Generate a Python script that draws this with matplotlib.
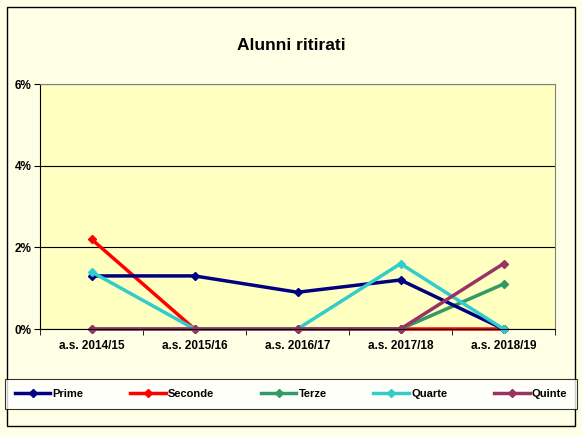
import matplotlib
matplotlib.use('Agg')
import matplotlib.pyplot as plt
import matplotlib.patches as patches

years = ["a.s. 2014/15", "a.s. 2015/16", "a.s. 2016/17", "a.s. 2017/18", "a.s. 2018/19"]
prime = [1.3, 1.3, 0.9, 1.2, 0.0]
seconde = [2.2, 0.0, 0.0, 0.0, 0.0]
terze = [0.0, 0.0, 0.0, 0.0, 1.1]
quarte = [1.4, 0.0, 0.0, 1.6, 0.0]
quinte = [0.0, 0.0, 0.0, 0.0, 1.6]

series = [("Prime", prime, "#000080"),
          ("Seconde", seconde, "#FF0000"),
          ("Terze", terze, "#339966"),
          ("Quarte", quarte, "#33CCCC"),
          ("Quinte", quinte, "#993366")]

fig = plt.figure(figsize=(5.82, 4.36), dpi=100)
fig.patch.set_facecolor("#FFFFE6")
fig.patches.append(patches.Rectangle((7/582, 1-426/436), 568/582, 419/436, transform=fig.transFigure,
                                     fill=False, edgecolor="black", lw=1))

ax = fig.add_axes([40/582, 1-329/436, 515/582, 245/436])
ax.set_facecolor("#FFFFC0")
x = list(range(len(years)))
# draw order chosen so overlaps look like the reference
for name, vals, c in [series[1], series[2], series[0], series[3], series[4]]:
    ax.plot(x, vals, color=c, lw=2.5, marker="D", ms=4.5, label=name, clip_on=False)

ax.set_xlim(-0.5, 4.5)
ax.set_ylim(0, 6)
ax.set_yticks([0, 2, 4, 6])
ax.set_yticklabels(["0%", "2%", "4%", "6%"], fontsize=8.5, fontweight="bold", family="Liberation Sans")
ax.yaxis.grid(True, color="black", lw=0.8)
ax.set_axisbelow(True)
ax.set_xticks(x)
ax.set_xticklabels(years, fontsize=8.5, fontweight="bold", family="Liberation Sans")
ax.set_xticks([-0.5, 0.5, 1.5, 2.5, 3.5, 4.5], minor=True)
ax.tick_params(axis="x", which="major", length=0, pad=8)
ax.tick_params(axis="x", which="minor", length=4, direction="out")
ax.tick_params(axis="y", length=4, pad=2)
for s in ax.spines.values():
    s.set_color("#808080")
ax.spines["left"].set_color("black")
ax.spines["bottom"].set_color("black")

fig.text(0.5, 1-45/436, "Alunni ritirati", ha="center", va="center",
         fontsize=12.5, fontweight="bold", family="Liberation Sans")

handles, labels = ax.get_legend_handles_labels()
order = ["Prime", "Seconde", "Terze", "Quarte", "Quinte"]
hmap = dict(zip(labels, handles))
leg = fig.legend([hmap[k] for k in order], order, loc="center",
                 bbox_to_anchor=(291/582, 1-394/436), ncol=5, frameon=True, fancybox=False,
                 prop={"size": 8, "weight": "bold", "family": "Liberation Sans"},
                 handlelength=3.2, columnspacing=4.2, handletextpad=0.2, borderpad=0.9)
leg.get_frame().set_edgecolor("black")
leg.get_frame().set_facecolor("white")
leg.get_frame().set_linewidth(0.8)

fig.savefig("out.png", dpi=100, facecolor=fig.get_facecolor())
